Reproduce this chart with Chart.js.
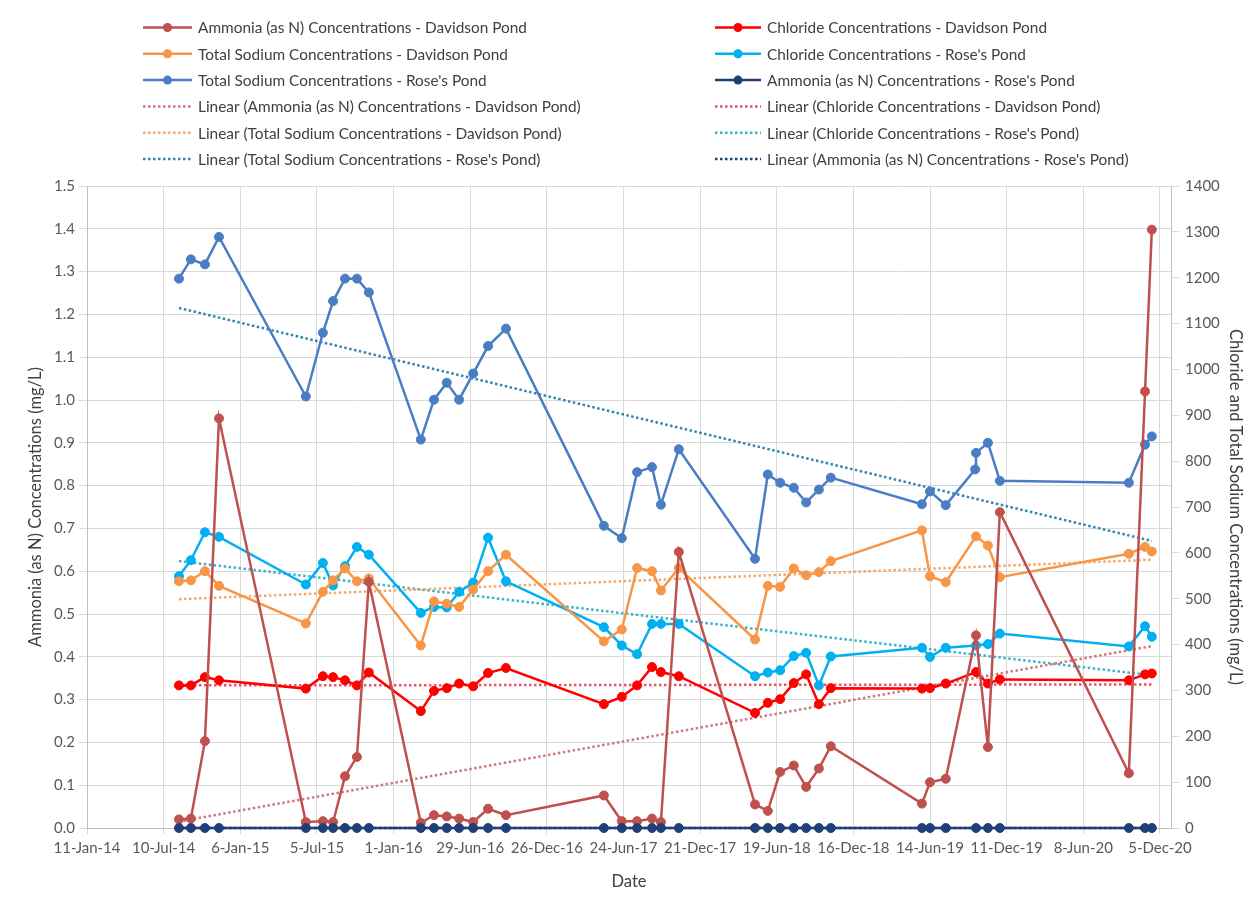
<!DOCTYPE html>
<html>
<head>
<meta charset="utf-8">
<script src="https://cdn.jsdelivr.net/npm/chart.js@4.4.1/dist/chart.umd.min.js"></script>
<style>
  html, body { margin: 0; padding: 0; background: #fff; }
  canvas { display: block; }
</style>
</head>
<body>
<canvas id="pondChart" width="1256" height="911"></canvas>
<script>
// sampling dates (one extra date in Sep-19 used only by Rose's Pond sodium)
var sampleDates = [
  '2014-08-15', '2014-09-12', '2014-10-15', '2014-11-17',
  '2015-06-09', '2015-07-19', '2015-08-12', '2015-09-09', '2015-10-07', '2015-11-04',
  '2016-03-05', '2016-04-05', '2016-05-05', '2016-06-03', '2016-07-06', '2016-08-10', '2016-09-21',
  '2017-05-09', '2017-06-20', '2017-07-26', '2017-08-30', '2017-09-20', '2017-11-01',
  '2018-04-29', '2018-05-29', '2018-06-27', '2018-07-29', '2018-08-27', '2018-09-26', '2018-10-24',
  '2019-05-26', '2019-06-14', '2019-07-21', '2019-09-28', '2019-09-30', '2019-10-28', '2019-11-25',
  '2020-09-23', '2020-10-31', '2020-11-16'
];

// mg/L, left axis
var ammoniaDavidson = [
  0.020, 0.022, 0.203, 0.957,
  0.014, 0.016, 0.014, 0.121, 0.166, 0.575,
  0.012, 0.030, 0.027, 0.022, 0.014, 0.045, 0.030,
  0.076, 0.016, 0.016, 0.022, 0.014, 0.645,
  0.055, 0.040, 0.131, 0.146, 0.096, 0.139, 0.191,
  0.057, 0.107, 0.115, null, 0.450, 0.189, 0.738,
  0.128, 1.020, 1.398
];
var ammoniaRoses = [
  0, 0, 0, 0,
  0, 0, 0, 0, 0, 0,
  0, 0, 0, 0, 0, 0, 0,
  0, 0, 0, 0, 0, 0,
  0, 0, 0, 0, 0, 0, 0,
  0, 0, 0, null, 0, 0, 0,
  0, 0, 0
];
// mg/L, right axis
var chlorideDavidson = [
  311, 311, 329, 322,
  304, 331, 329, 322, 311, 339,
  255, 299, 305, 315, 309, 338, 349,
  270, 286, 311, 351, 340, 331,
  251, 273, 281, 316, 335, 270, 305,
  304, 305, 315, null, 340, 315, 324,
  322, 335, 337
];
var sodiumDavidson = [
  538, 540, 560, 528,
  446, 515, 540, 566, 538, 544,
  398, 494, 489, 482, 520, 560, 596,
  407, 433, 567, 560, 518, 567,
  411, 528, 526, 566, 551, 558, 582,
  649, 549, 536, null, 636, 616, 547,
  598, 613, 603
];
var chlorideRoses = [
  549, 584, 645, 635,
  531, 578, 529, 571, 613, 596,
  469, 482, 481, 515, 535, 633, 538,
  438, 398, 379, 445, 445, 445,
  331, 339, 344, 375, 382, 311, 374,
  393, 373, 393, null, 398, 401, 424,
  396, 440, 417
];
var sodiumRoses = [
  1198, 1240, 1229, 1289,
  941, 1080, 1149, 1198, 1198, 1168,
  847, 934, 971, 934, 991, 1051, 1089,
  659, 632, 776, 787, 705, 826,
  587, 771, 753, 742, 710, 738, 764,
  706, 734, 704, 782, 818, 840, 757,
  753, 836, 854
];

// linear trend lines: value at first and last sample date
var trendAmmoniaDavidson = [0.015, 0.425];
var trendChlorideDavidson = [311, 313];
var trendSodiumDavidson = [499, 585];
var trendChlorideRoses = [582, 333];
var trendSodiumRoses = [1134, 626];
var trendAmmoniaRoses = [0, 0];

var xTickDates = [
  '2014-01-11', '2014-07-10', '2015-01-06', '2015-07-05', '2016-01-01',
  '2016-06-29', '2016-12-26', '2017-06-24', '2017-12-21', '2018-06-19',
  '2018-12-16', '2019-06-14', '2019-12-11', '2020-06-08', '2020-12-05'
];
var xEndDate = '2020-12-31';

var monthNames = ['Jan', 'Feb', 'Mar', 'Apr', 'May', 'Jun', 'Jul', 'Aug', 'Sep', 'Oct', 'Nov', 'Dec'];

function toDay(iso) {
  var p = iso.split('-');
  return Date.UTC(+p[0], +p[1] - 1, +p[2]) / 86400000;
}
function fmtDay(v) {
  var d = new Date(Math.round(v) * 86400000);
  return d.getUTCDate() + '-' + monthNames[d.getUTCMonth()] + '-' + String(d.getUTCFullYear()).slice(2);
}
function pts(values) {
  return sampleDates.map(function (d, i) { return { x: toDay(d), y: values[i] }; });
}
function trendPts(ends) {
  return [
    { x: toDay(sampleDates[0]), y: ends[0] },
    { x: toDay(sampleDates[sampleDates.length - 1]), y: ends[1] }
  ];
}

function series(label, values, color, axis, order) {
  return {
    label: label,
    data: pts(values),
    yAxisID: axis,
    borderColor: color,
    backgroundColor: color,
    pointBackgroundColor: color,
    pointBorderColor: color,
    borderWidth: 2.5,
    pointRadius: 4.5,
    pointBorderWidth: 1,
    spanGaps: true,
    clip: false,
    order: order
  };
}
function trend(label, ends, color, axis) {
  return {
    label: label,
    data: trendPts(ends),
    yAxisID: axis,
    borderColor: color,
    backgroundColor: color,
    borderWidth: 2.5,
    borderDash: [2.5, 2.5],
    pointRadius: 0,
    clip: false,
    order: 6
  };
}

// legend order (two columns, row by row)
var datasets = [
  series('Ammonia (as N) Concentrations - Davidson Pond', ammoniaDavidson, '#C0504D', 'y', 1),
  series('Chloride Concentrations - Davidson Pond', chlorideDavidson, '#FF0000', 'y2', 2),
  series('Total Sodium Concentrations - Davidson Pond', sodiumDavidson, '#F79646', 'y2', 3),
  series("Chloride Concentrations - Rose's Pond", chlorideRoses, '#00B0F0', 'y2', 4),
  series("Total Sodium Concentrations - Rose's Pond", sodiumRoses, '#4A7EC4', 'y2', 5),
  series("Ammonia (as N) Concentrations - Rose's Pond", ammoniaRoses, '#1F3F78', 'y', 0),
  trend('Linear (Ammonia (as N) Concentrations - Davidson Pond)', trendAmmoniaDavidson, '#D0787A', 'y'),
  trend('Linear (Chloride Concentrations - Davidson Pond)', trendChlorideDavidson, '#F0506A', 'y2'),
  trend('Linear (Total Sodium Concentrations - Davidson Pond)', trendSodiumDavidson, '#F5A868', 'y2'),
  trend("Linear (Chloride Concentrations - Rose's Pond)", trendChlorideRoses, '#36B4CC', 'y2'),
  trend("Linear (Total Sodium Concentrations - Rose's Pond)", trendSodiumRoses, '#2F86B0', 'y2'),
  trend("Linear (Ammonia (as N) Concentrations - Rose's Pond)", trendAmmoniaRoses, '#1F3F78', 'y')
];

// two-column legend drawn in the top padding
var twoColLegend = {
  id: 'twoColLegend',
  afterDraw: function (chart) {
    var ctx = chart.ctx;
    ctx.save();
    ctx.font = '15.4px Lato';
    ctx.textBaseline = 'middle';
    chart.data.datasets.forEach(function (ds, i) {
      var col = i % 2, row = Math.floor(i / 2);
      var x0 = col ? 715 : 143;
      var len = col ? 46 : 49;
      var y = 27.5 + row * 26.3;
      ctx.strokeStyle = ds.borderColor;
      ctx.lineWidth = ds.borderWidth;
      ctx.setLineDash(ds.borderDash || []);
      ctx.beginPath();
      ctx.moveTo(x0, y);
      ctx.lineTo(x0 + len, y);
      ctx.stroke();
      ctx.setLineDash([]);
      if (ds.pointRadius > 0) {
        ctx.fillStyle = ds.borderColor;
        ctx.beginPath();
        ctx.arc(x0 + len / 2, y, ds.pointRadius, 0, Math.PI * 2);
        ctx.fill();
      }
      ctx.fillStyle = '#404040';
      ctx.fillText(ds.label, x0 + len + 6, y + 1);
    });
    ctx.restore();
  }
};

Chart.defaults.font.family = 'Lato';
Chart.defaults.color = '#595959';

var canvas = document.getElementById('pondChart');
var pondChart = new Chart(canvas, {
  type: 'line',
  data: { datasets: datasets },
  plugins: [twoColLegend],
  options: {
    responsive: false,
    animation: false,
    layout: { padding: { top: 186, left: 0, right: 0, bottom: 0 } },
    plugins: {
      legend: { display: false },
      tooltip: { enabled: false }
    },
    scales: {
      x: {
        type: 'linear',
        min: toDay(xTickDates[0]),
        max: toDay(xEndDate),
        afterBuildTicks: function (scale) {
          scale.ticks = xTickDates.map(function (d) { return { value: toDay(d) }; });
        },
        afterFit: function (scale) { scale.height = 83; },
        ticks: {
          autoSkip: false,
          maxRotation: 0,
          padding: 5,
          font: { size: 15 },
          callback: function (v) { return fmtDay(v); }
        },
        grid: { color: '#D9D9D9', tickLength: 6 },
        border: { color: '#BFBFBF' },
        title: {
          display: true,
          text: 'Date',
          color: '#404040',
          font: { size: 16.5 },
          padding: { top: 0, bottom: 19 }
        }
      },
      y: {
        position: 'left',
        min: 0,
        max: 1.5,
        afterFit: function (scale) { scale.width = 87; },
        ticks: {
          stepSize: 0.1,
          padding: 4,
          font: { size: 15 },
          callback: function (v) { return v.toFixed(1); }
        },
        grid: { color: '#D9D9D9', tickLength: 8 },
        border: { color: '#BFBFBF' },
        title: {
          display: true,
          text: 'Ammonia (as N) Concentrations (mg/L)',
          color: '#404040',
          font: { size: 16.5 },
          padding: { top: 26, bottom: 0 }
        }
      },
      y2: {
        position: 'right',
        min: 0,
        max: 1400,
        afterFit: function (scale) { scale.width = 85; },
        ticks: {
          stepSize: 100,
          padding: 6,
          font: { size: 15 },
          callback: function (v) { return String(v); }
        },
        grid: { drawOnChartArea: false, color: '#D9D9D9', tickLength: 8 },
        border: { color: '#BFBFBF' },
        title: {
          display: true,
          text: 'Chloride and Total Sodium Concentrations (mg/L)',
          color: '#404040',
          font: { size: 16.5 },
          padding: { top: 11, bottom: 0 }
        }
      }
    }
  }
});
</script>
</body>
</html>
